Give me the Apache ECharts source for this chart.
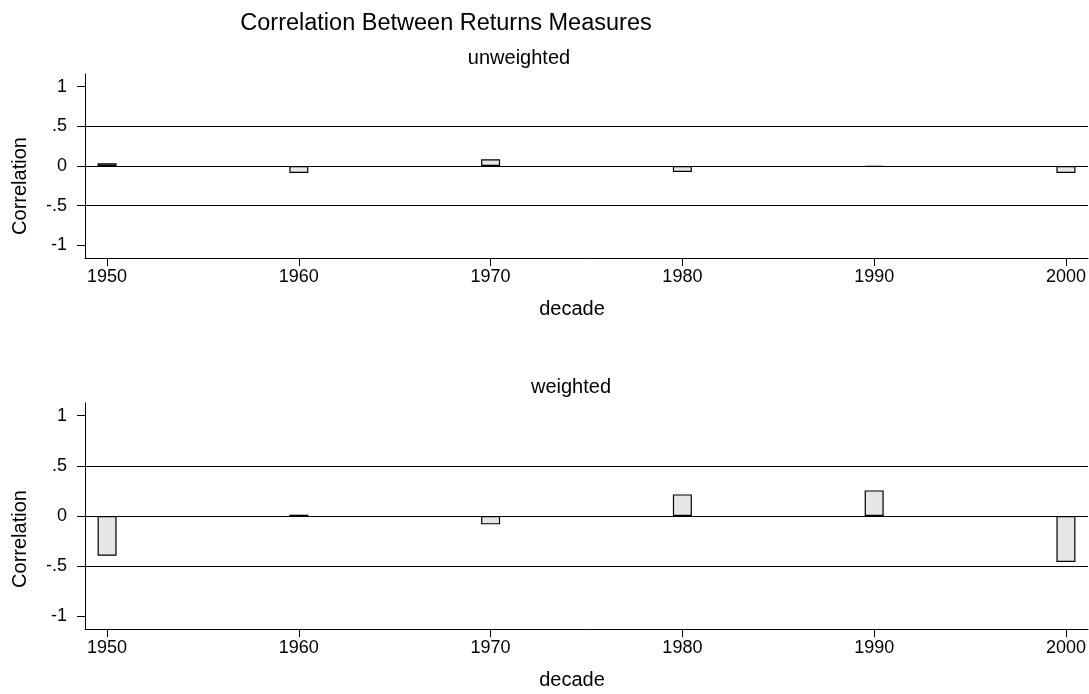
<!DOCTYPE html>
<html>
<head>
<meta charset="utf-8">
<script src="https://cdn.jsdelivr.net/npm/echarts@6/dist/echarts.min.js"></script>
<style>
html,body{margin:0;padding:0;background:#fff;}
#c{width:1089px;height:694px;}
</style>
</head>
<body>
<div id="c"></div>
<script>
// ---- data ----
var decades = [1950, 1960, 1970, 1980, 1990, 2000];
var unweighted = [0.035, -0.088, 0.085, -0.076, -0.008, -0.088];
var weighted = [-0.395, 0.013, -0.083, 0.215, 0.255, -0.458];
var yTicks = [-1, -0.5, 0, 0.5, 1];
var refLines = [0.5, 0, -0.5];
var titleText = 'Correlation Between Returns Measures';
var panelTitles = ['unweighted', 'weighted'];
var xTitle = 'decade';
var yTitle = 'Correlation';

var FONT = 'Liberation Sans, Arial, sans-serif';

function pairs(vals) {
  return decades.map(function (d, i) { return [d, vals[i]]; });
}
function yFmt(v) {
  if (v === 0) return '0';
  return String(v).replace('0.', '.');
}
function xFmt(v) { return String(v); }

function xAxisFor(gi) {
  return {
    type: 'value', gridIndex: gi, min: 1948.85, max: 2001.15,
    axisLine: { show: true, onZero: false, lineStyle: { color: '#000', width: 1 } },
    axisTick: { show: true, length: 8, lineStyle: { color: '#000' }, customValues: decades },
    axisLabel: { color: '#000', fontFamily: FONT, fontSize: 18, margin: 10, customValues: decades, formatter: xFmt },
    splitLine: { show: false }
  };
}
function yAxisFor(gi, lim) {
  return {
    type: 'value', gridIndex: gi, min: -lim, max: lim,
    axisLine: { show: true, lineStyle: { color: '#000', width: 1 } },
    axisTick: { show: true, length: 8, lineStyle: { color: '#000' }, customValues: yTicks },
    axisLabel: { color: '#000', fontFamily: FONT, fontSize: 18, margin: 18, customValues: yTicks, formatter: yFmt },
    splitLine: { show: false }
  };
}
function barSeries(gi, vals) {
  return {
    type: 'bar', xAxisIndex: gi, yAxisIndex: gi,
    data: pairs(vals), barWidth: 19,
    itemStyle: { color: '#e6e6e6', borderColor: '#000', borderWidth: 1.2 },
    markLine: {
      silent: true, symbol: 'none', label: { show: false },
      lineStyle: { color: '#000', type: 'solid', width: 1.2 },
      emphasis: { disabled: true },
      data: refLines.map(function (v) { return { yAxis: v }; })
    }
  };
}

var textEls = [
  { type: 'text', x: 446, y: 24, style: { text: titleText, font: '23.5px ' + FONT, fill: '#000', textAlign: 'center', textVerticalAlign: 'middle' } },
  { type: 'text', x: 519, y: 58, style: { text: panelTitles[0], font: '20px ' + FONT, fill: '#000', textAlign: 'center', textVerticalAlign: 'middle' } },
  { type: 'text', x: 571, y: 387, style: { text: panelTitles[1], font: '20px ' + FONT, fill: '#000', textAlign: 'center', textVerticalAlign: 'middle' } },
  { type: 'text', x: 572, y: 309, style: { text: xTitle, font: '20px ' + FONT, fill: '#000', textAlign: 'center', textVerticalAlign: 'middle' } },
  { type: 'text', x: 572, y: 680, style: { text: xTitle, font: '20px ' + FONT, fill: '#000', textAlign: 'center', textVerticalAlign: 'middle' } },
  { type: 'text', x: 20, y: 186, rotation: Math.PI / 2, style: { text: yTitle, font: '20px ' + FONT, fill: '#000', textAlign: 'center', textVerticalAlign: 'middle' } },
  { type: 'text', x: 20, y: 539, rotation: Math.PI / 2, style: { text: yTitle, font: '20px ' + FONT, fill: '#000', textAlign: 'center', textVerticalAlign: 'middle' } }
];

var chart = echarts.init(document.getElementById('c'), null, { renderer: 'canvas' });
chart.setOption({
  animation: false,
  backgroundColor: '#fff',
  grid: [
    { left: 85, top: 74, width: 1003, height: 184, containLabel: false },
    { left: 85, top: 403, width: 1003, height: 226, containLabel: false }
  ],
  xAxis: [xAxisFor(0), xAxisFor(1)],
  yAxis: [yAxisFor(0, 1.16), yAxisFor(1, 1.125)],
  series: [barSeries(0, unweighted), barSeries(1, weighted)],
  graphic: textEls
});
</script>
</body>
</html>
